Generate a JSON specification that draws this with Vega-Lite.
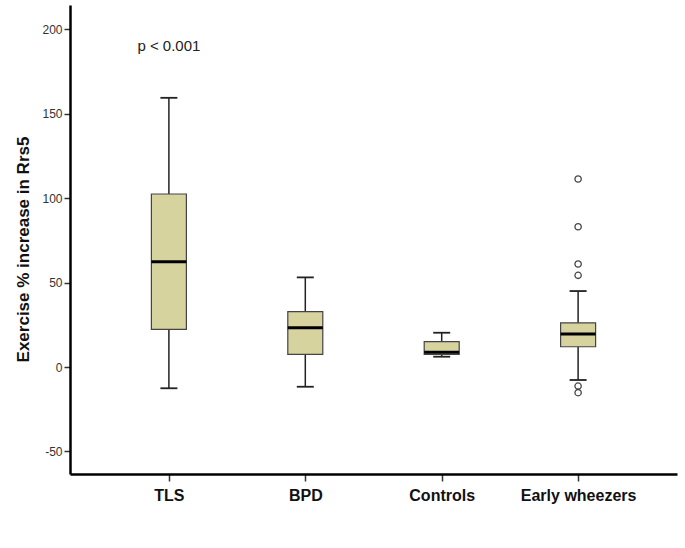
{
  "$schema": "https://vega.github.io/schema/vega-lite/v6.json",
  "autosize": "none",
  "width": 607,
  "height": 469,
  "padding": {"left": 70, "top": 5, "right": 8, "bottom": 74},
  "background": "white",
  "config": {
    "view": {"stroke": null},
    "font": "Liberation Sans",
    "axis": {"grid": false}
  },
  "datasets": {
    "boxes": [
      {"group": "TLS", "lo": -12.6, "q1": 22.3, "med": 62.4, "q3": 102.5, "hi": 159.5},
      {"group": "BPD", "lo": -11.7, "q1": 7.5, "med": 23.3, "q3": 32.8, "hi": 53.1},
      {"group": "Controls", "lo": 6.1, "q1": 7.5, "med": 8.7, "q3": 15.0, "hi": 20.3},
      {"group": "Early wheezers", "lo": -7.7, "q1": 12.0, "med": 19.5, "q3": 26.2, "hi": 45.0}
    ],
    "outliers": [
      {"group": "Early wheezers", "value": 111.4},
      {"group": "Early wheezers", "value": 83.1},
      {"group": "Early wheezers", "value": 61.0},
      {"group": "Early wheezers", "value": 54.3},
      {"group": "Early wheezers", "value": -11.3},
      {"group": "Early wheezers", "value": -15.2}
    ],
    "notes": [
      {"group": "TLS", "value": 190, "label": "p < 0.001"}
    ]
  },
  "encoding": {
    "x": {
      "field": "group",
      "type": "nominal",
      "sort": ["TLS", "BPD", "Controls", "Early wheezers"],
      "scale": {"type": "point", "padding": 0.725, "domain": ["TLS", "BPD", "Controls", "Early wheezers"]},
      "axis": {
        "title": null,
        "labelAngle": 0,
        "labelFont": "Liberation Sans",
        "labelFontSize": 16,
        "labelFontWeight": "bold",
        "labelColor": "#111",
        "labelPadding": 6,
        "domainColor": "#000",
        "domainWidth": 2.5,
        "tickColor": "#333",
        "tickWidth": 1.5,
        "tickSize": 7
      }
    }
  },
  "layer": [
    {
      "data": {"name": "boxes"},
      "mark": {"type": "rule", "color": "#222", "strokeWidth": 1.5},
      "encoding": {
        "y": {
          "field": "lo",
          "type": "quantitative",
          "scale": {"domain": [-63.4, 214.5], "nice": false, "zero": false},
          "axis": {
            "title": "Exercise % increase in Rrs5",
            "titleFont": "Liberation Sans",
            "titleFontSize": 17,
            "titleFontWeight": "bold",
            "titleColor": "#111",
            "titleX": -47,
            "titleY": 244,
            "titleAngle": -90,
            "titleAlign": "center",
            "titleBaseline": "middle",
            "values": [-50, 0, 50, 100, 150, 200],
            "labelExpr": "replace(datum.label, '−', '-')",
            "labelFont": "Liberation Sans",
            "labelFontSize": 12,
            "labelColor": "#333",
            "labelPadding": 2,
            "domainColor": "#000",
            "domainWidth": 2.5,
            "tickColor": "#333",
            "tickWidth": 1.5,
            "tickSize": 6
          }
        },
        "y2": {"field": "hi"}
      }
    },
    {
      "data": {"name": "boxes"},
      "mark": {"type": "tick", "color": "#222", "opacity": 1, "size": 17, "thickness": 1.8, "orient": "horizontal"},
      "encoding": {"y": {"field": "lo", "type": "quantitative"}}
    },
    {
      "data": {"name": "boxes"},
      "mark": {"type": "tick", "color": "#222", "opacity": 1, "size": 17, "thickness": 1.8, "orient": "horizontal"},
      "encoding": {"y": {"field": "hi", "type": "quantitative"}}
    },
    {
      "data": {"name": "boxes"},
      "mark": {"type": "bar", "size": 35, "fill": "#d7d39e", "opacity": 1, "stroke": "#444", "strokeWidth": 1.2},
      "encoding": {
        "y": {"field": "q1", "type": "quantitative"},
        "y2": {"field": "q3"}
      }
    },
    {
      "data": {"name": "boxes"},
      "mark": {"type": "tick", "color": "#000", "opacity": 1, "size": 35, "thickness": 3, "orient": "horizontal"},
      "encoding": {"y": {"field": "med", "type": "quantitative"}}
    },
    {
      "data": {"name": "outliers"},
      "mark": {"type": "point", "shape": "circle", "size": 40, "filled": false, "opacity": 1, "stroke": "#444", "strokeWidth": 1.3, "fill": "white"},
      "encoding": {"y": {"field": "value", "type": "quantitative"}}
    },
    {
      "data": {"name": "notes"},
      "mark": {"type": "text", "fontSize": 15, "font": "Liberation Sans", "color": "#222", "baseline": "middle", "align": "center"},
      "encoding": {
        "y": {"field": "value", "type": "quantitative"},
        "text": {"field": "label"}
      }
    }
  ]
}
